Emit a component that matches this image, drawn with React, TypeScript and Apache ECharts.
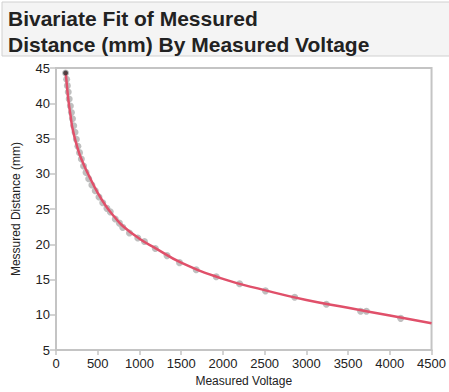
import React, { useEffect, useRef } from "react";
import * as echarts from "echarts";

const title = ["Bivariate Fit of Messured", "Distance (mm) By Measured Voltage"];
const xAxisName = "Measured Voltage";
const yAxisName = "Messured Distance (mm)";

const voltage = [115, 127, 136, 147, 158, 172, 185, 198, 212, 228, 244, 262, 282, 304, 330, 360, 392, 430, 470, 515, 560, 610, 650, 710, 760, 800, 880, 980, 1060, 1190, 1330, 1480, 1680, 1920, 2200, 2510, 2860, 3240, 3650, 3720, 4130];
const distance = [44.3, 43.4, 42.5, 41.6, 40.6, 39.6, 38.7, 37.8, 36.8, 35.9, 34.9, 33.9, 33.0, 32.1, 31.1, 30.2, 29.3, 28.4, 27.6, 26.7, 25.9, 25.1, 24.6, 23.6, 23.0, 22.4, 21.6, 20.9, 20.4, 19.4, 18.4, 17.4, 16.4, 15.4, 14.4, 13.4, 12.5, 11.5, 10.5, 10.5, 9.5];

const fitVoltage = [115, 130, 150, 175, 200, 250, 300, 400, 500, 600, 700, 800, 1000, 1200, 1500, 2000, 2500, 3000, 3500, 4000, 4500];
const fitDistance = [44.5, 42.6, 40.3, 38.2, 36.3, 34.0, 32.2, 29.6, 27.3, 25.4, 23.9, 22.6, 20.8, 19.4, 17.4, 15.1, 13.5, 12.1, 11.0, 9.9, 8.8];

const xTicks = { min: 0, max: 4500, interval: 500 };
const yTicks = { min: 5, max: 45, interval: 5 };

export default function App() {
  const ref = useRef<HTMLDivElement>(null);
  useEffect(() => {
    if (!ref.current) return;
    const chart = echarts.init(ref.current, null, { renderer: "svg" });
    const font = "Liberation Sans, Arial, Helvetica, sans-serif";
    chart.setOption({
      animation: false,
      backgroundColor: "#ffffff",
      graphic: [
        {
          type: "rect",
          shape: { x: 2, y: 2, width: 460, height: 54 },
          style: { fill: "#f4f4f4", stroke: "#d0d0d0", lineWidth: 1 },
          silent: true,
        },
        {
          type: "text",
          x: 8,
          y: 5,
          style: {
            text: title.join("\n"),
            font: `bold 21px ${font}`,
            fill: "#222222",
            lineHeight: 26,
          },
        },
      ],
      grid: {
        left: 56,
        right: 15,
        top: 68,
        bottom: 40,
        show: true,
        borderColor: "#c4c4c4",
        borderWidth: 2,
      },
      xAxis: {
        type: "value",
        min: xTicks.min,
        max: xTicks.max,
        interval: xTicks.interval,
        name: xAxisName,
        nameLocation: "middle",
        nameGap: 24,
        nameTextStyle: { color: "#222", fontSize: 12, fontFamily: font },
        axisLine: { show: true, lineStyle: { color: "#c4c4c4", width: 2 } },
        axisTick: { show: true, length: 5, lineStyle: { color: "#c4c4c4", width: 1.5 } },
        axisLabel: {
          color: "#222",
          fontSize: 13,
          fontFamily: font,
          margin: 7,
          formatter: (v: number) => String(v),
        },
        splitLine: { show: false },
      },
      yAxis: {
        type: "value",
        min: yTicks.min,
        max: yTicks.max,
        interval: yTicks.interval,
        name: yAxisName,
        nameLocation: "middle",
        nameGap: 34,
        nameTextStyle: { color: "#222", fontSize: 12, fontFamily: font },
        axisLine: { show: true, lineStyle: { color: "#c4c4c4", width: 2 } },
        axisTick: { show: true, length: 6, lineStyle: { color: "#c4c4c4", width: 1.5 } },
        axisLabel: { color: "#222", fontSize: 13, fontFamily: font, margin: 6 },
        splitLine: { show: false },
      },
      series: [
        {
          type: "scatter",
          data: voltage.map((v, i) => [v, distance[i]]),
          symbolSize: 7,
          itemStyle: { color: "#b8b8b8", opacity: 0.9 },
          z: 2,
        },
        {
          type: "line",
          data: fitVoltage.map((v, i) => [v, fitDistance[i]]),
          smooth: true,
          showSymbol: false,
          lineStyle: { color: "#e0506a", width: 2.5 },
          z: 3,
        },
        {
          type: "scatter",
          data: [[voltage[0], distance[0]]],
          symbolSize: 5,
          itemStyle: { color: "#333333" },
          z: 4,
        },
      ],
    });
    return () => chart.dispose();
  }, []);
  return (
    <div
      ref={ref}
      style={{ position: "fixed", left: 0, top: 0, width: 449, height: 392 }}
    />
  );
}
